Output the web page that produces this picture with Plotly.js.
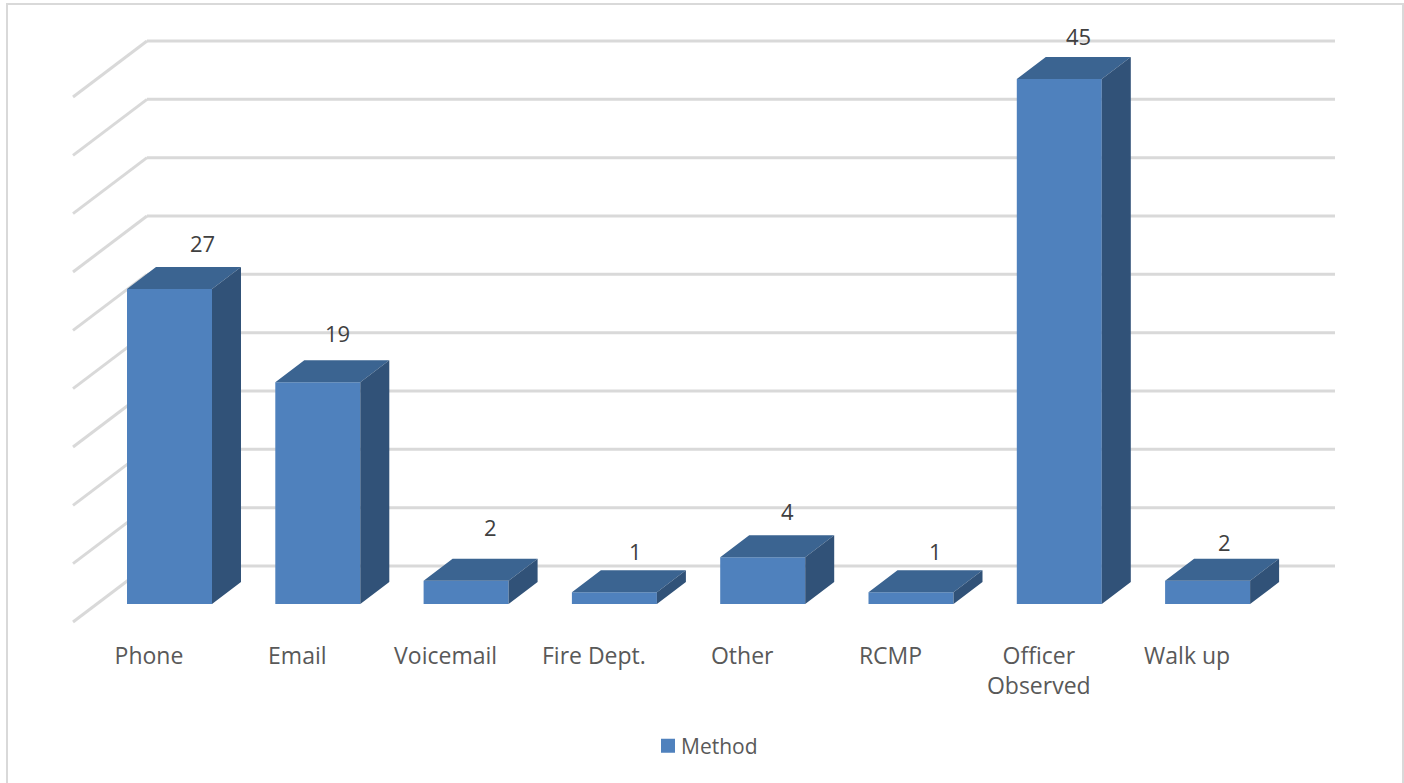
<!DOCTYPE html>
<html>
<head>
<meta charset="utf-8">
<script src="https://cdn.plot.ly/plotly-3.0.1.min.js"></script>
<style>html,body{margin:0;padding:0;background:#fff;overflow:hidden}#chart{width:1404px;height:783px}</style>
</head>
<body>
<div id="chart"></div>
<script>
const categories = ["Phone", "Email", "Voicemail", "Fire Dept.", "Other", "RCMP", "Officer<br>Observed", "Walk up"];
const seriesName = "Method";
const methodValues = [27, 19, 2, 1, 4, 1, 45, 2];
const gridValues = [0, 5, 10, 15, 20, 25, 30, 35, 40, 45];

// layout geometry
const W = 1404, H = 783;
const M = {l: 60, r: 59, t: 20, b: 143};
const plotW = W - M.l - M.r, plotH = H - M.t - M.b;
const pxPerCat = 148.3, pxPerUnit = 525 / 45;
const xPx = p => (p - 149) / pxPerCat;
const xLen = p => p / pxPerCat;
const yLen = p => p / pxPerUnit;
const paperX = p => (p - M.l) / plotW;
const paperY = p => 1 - (p - M.t) / plotH;

const barOffset = xLen(-22), barWidth = xLen(85);
const depthX = xLen(29), depthY = yLen(22);
const wallLift = yLen(38), wallFront = yLen(-18);
const wallX0 = xPx(73), wallX1 = xPx(147), wallX2 = xPx(1335);

const idx = categories.map((_, i) => i);
const topX = [], topY = [], sideX = [], sideY = [];
methodValues.forEach((v, i) => {
  const a = i + barOffset, b = a + barWidth;
  topX.push(a, b, b + depthX, a + depthX, a, null);
  topY.push(v, v, v + depthY, v + depthY, v, null);
  sideX.push(b, b + depthX, b + depthX, b, b, null);
  sideY.push(0, depthY, v + depthY, v, 0, null);
});

const front = "#4f81bd", topFace = "#3b6491", sideFace = "#315278";
const traces = [
  {type: "bar", x: idx, y: methodValues, name: seriesName, width: barWidth, offset: barOffset,
   marker: {color: front, line: {width: 0}}, hoverinfo: "x+y"},
  {type: "scatter", mode: "lines", x: topX, y: topY, fill: "toself", fillcolor: topFace,
   line: {width: 0, color: topFace}, showlegend: false, hoverinfo: "skip"},
  {type: "scatter", mode: "lines", x: sideX, y: sideY, fill: "toself", fillcolor: sideFace,
   line: {width: 0, color: sideFace}, showlegend: false, hoverinfo: "skip"}
];

const gridLine = {color: "#d9d9d9", width: 3};
const shapes = [];
gridValues.forEach(v => {
  shapes.push({type: "line", layer: "below", xref: "x", yref: "y", x0: wallX1, x1: wallX2,
    y0: v + wallLift, y1: v + wallLift, line: gridLine});
  shapes.push({type: "line", layer: "below", xref: "x", yref: "y", x0: wallX0, x1: wallX1,
    y0: v + wallFront, y1: v + wallLift, line: gridLine});
});
shapes.push({type: "rect", layer: "below", xref: "paper", yref: "paper",
  x0: paperX(7), x1: paperX(1403), y0: paperY(800), y1: paperY(4),
  line: {color: "#d9d9d9", width: 2}, fillcolor: "rgba(0,0,0,0)"});

const labelShiftX = [53, 40, 45, 42, 45, 45, 40, 37];
const labelShiftY = [46, 49, 54, 41, 46, 41, 43, 39];
const annotations = methodValues.map((v, i) => ({
  x: i, y: v, xref: "x", yref: "y", text: String(v), showarrow: false,
  xshift: labelShiftX[i], yshift: labelShiftY[i], xanchor: "center", yanchor: "middle",
  font: {family: "Open Sans", size: 22, color: "#404040"}
}));

const layout = {
  width: W, height: H, margin: M, paper_bgcolor: "#fff", plot_bgcolor: "rgba(0,0,0,0)",
  showlegend: true,
  legend: {orientation: "h", x: paperX(648), xanchor: "left", y: paperY(746), yanchor: "middle",
    font: {family: "Open Sans", size: 21, color: "#595959"}, bgcolor: "rgba(0,0,0,0)"},
  xaxis: {range: [xPx(M.l), xPx(W - M.r)], tickmode: "array", tickvals: idx, ticktext: categories,
    showgrid: false, zeroline: false, showline: false, ticks: "", ticklabelstandoff: 0, tickangle: 0,
    tickfont: {family: "Open Sans", size: 23, color: "#595959"}, fixedrange: true},
  yaxis: {range: [-(H - M.b - 604) / pxPerUnit, (604 - M.t) / pxPerUnit], showgrid: false, zeroline: false,
    showline: false, showticklabels: false, ticks: "", fixedrange: true},
  shapes, annotations
};
Plotly.newPlot("chart", traces, layout, {displayModeBar: false, staticPlot: true}).then(() => {
  // tighten the legend: larger swatch, text closer to it
  const swatch = document.querySelector(".legend .legendpoints path");
  if (swatch) swatch.setAttribute("d", "M7,7H-7V-7H7Z");
  const label = document.querySelector(".legend text.legendtext");
  if (label) label.setAttribute("x", String(parseFloat(label.getAttribute("x")) - 7));
});
</script>
</body>
</html>
